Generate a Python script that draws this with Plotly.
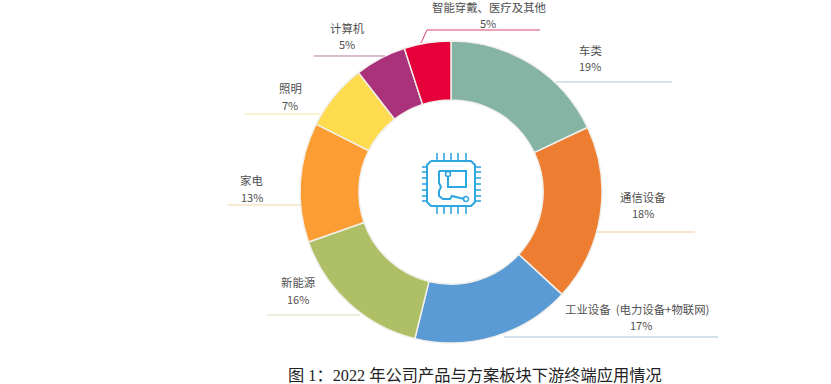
import plotly.graph_objects as go

W, H = 831, 384
categories = ["车类", "通信设备", "工业设备(电力设备+物联网)", "新能源", "家电", "照明", "计算机", "智能穿戴、医疗及其他"]
shares = [18.0, 18.9, 17.0, 15.8, 12.8, 7.1, 5.5, 5.0]
# percentages as printed on the labels
printed_pct = ["19%", "18%", "17%", "16%", "13%", "7%", "5%", "5%"]
label_names = ["车类", "通信设备", "工业设备  (电力设备+物联网)", "新能源", "家电", "照明", "计算机", "智能穿戴、医疗及其他"]
colors = ["#85B4A4", "#ED7D31", "#5B9BD5", "#AEBF66", "#FB9D33", "#FFDB4F", "#A9327B", "#E5003A"]
line_colors = ["#A9CBD0", "#EBC98F", "#A8C6D6", "#D5DDB5", "#F0D5A8", "#F5E8A0", "#B9789F", "#D8456B"]
label_xy = [(590, 50), (643, 197), (637, 309), (298, 282), (252, 180), (290, 88), (347, 28), (489, 7)]
pct_xy = [(590, 66), (643, 213), (641, 325), (298, 299), (252, 197), (290, 105), (347, 44), (488, 23)]
leaders = [
    [(556, 82), (672, 82)], [(597, 232), (695, 232)], [(504, 337), (718, 337)], [(267, 315), (360, 315)],
    [(228, 205), (301, 205)], [(244, 114), (320, 114)], [(314, 56), (385, 56)], [(421, 43), (427, 30), (540, 30)],
]
caption = "图 1：2022 年公司产品与方案板块下游终端应用情况"

def px(x, y):
    return x / W, 1 - y / H

def path(pts, close=False):
    s = ""
    for i, (x, y) in enumerate(pts):
        a, b = px(x, y)
        s += ("M" if i == 0 else "L") + f"{a:.5f},{b:.5f} "
    return s + ("Z" if close else "")

fig = go.Figure(go.Pie(
    labels=categories, values=shares, sort=False, direction="clockwise", rotation=0, hole=0.61,
    marker=dict(colors=colors, line=dict(color="#F1EFEA", width=1.5)),
    textinfo="none", hoverinfo="label",
    domain=dict(x=[300 / W, 602 / W], y=[1 - 343 / H, 1 - 41 / H]), showlegend=False,
))

shapes = []
for pts, c in zip(leaders, line_colors):
    shapes.append(dict(type="path", xref="paper", yref="paper", path=path(pts), line=dict(color=c, width=1)))

ICON = "#2EA7E0"
def iline(pts, w=2):
    shapes.append(dict(type="path", xref="paper", yref="paper", path=path(pts), line=dict(color=ICON, width=w)))
def icircle(cx, cy, r):
    x0, y1 = px(cx - r, cy - r)
    x1, y0 = px(cx + r, cy + r)
    shapes.append(dict(type="circle", xref="paper", yref="paper", x0=x0, x1=x1, y0=y0, y1=y1,
                       line=dict(color=ICON, width=1.6), fillcolor="white"))

# chip body
iline([(431, 161), (471, 161), (475, 165), (475, 202), (471, 206), (431, 206), (427, 202), (427, 165)] + [(431, 161)])
# pins
for x in (437, 444, 451, 458, 466):
    iline([(x, 153), (x, 160)], 1.6)
    iline([(x, 207), (x, 214)], 1.6)
for y in (167, 172, 178, 184, 190, 196, 201):
    iline([(422, y), (427, y)], 1.6)
    iline([(475, y), (481, y)], 1.6)
# traces
iline([(439, 171), (466, 171), (466, 187), (448, 187), (448, 175)])
iline([(439, 171), (439, 183), (441, 187), (439, 191), (439, 196), (443, 199), (450, 199), (452, 196), (460, 198), (465, 199)])
icircle(448, 174, 2.5)
icircle(466, 199, 2.5)

annotations = []
for (x, y), t in zip(label_xy, label_names):
    a, b = px(x, y)
    annotations.append(dict(x=a, y=b, xref="paper", yref="paper", text=t, showarrow=False,
                            xanchor="center", yanchor="middle", font=dict(size=11.4, color="#505050")))
for (x, y), t in zip(pct_xy, printed_pct):
    a, b = px(x, y)
    annotations.append(dict(x=a, y=b, xref="paper", yref="paper", text=t, showarrow=False,
                            xanchor="center", yanchor="middle", font=dict(size=11, color="#505050")))
a, b = px(475, 375)
annotations.append(dict(x=a, y=b, xref="paper", yref="paper", text=caption, showarrow=False,
                        xanchor="center", yanchor="middle",
                        font=dict(size=16.25, color="#222222", family="Liberation Serif, Noto Sans CJK SC")))

fig.update_layout(
    width=W, height=H, margin=dict(l=0, r=0, t=0, b=0), paper_bgcolor="white", plot_bgcolor="white",
    font=dict(family="Noto Sans CJK SC, Noto Sans, sans-serif"), shapes=shapes, annotations=annotations,
)
fig.write_html("out.html", config=dict(displayModeBar=False),
               post_script="document.body.style.margin='0';document.body.style.overflow='hidden';")
